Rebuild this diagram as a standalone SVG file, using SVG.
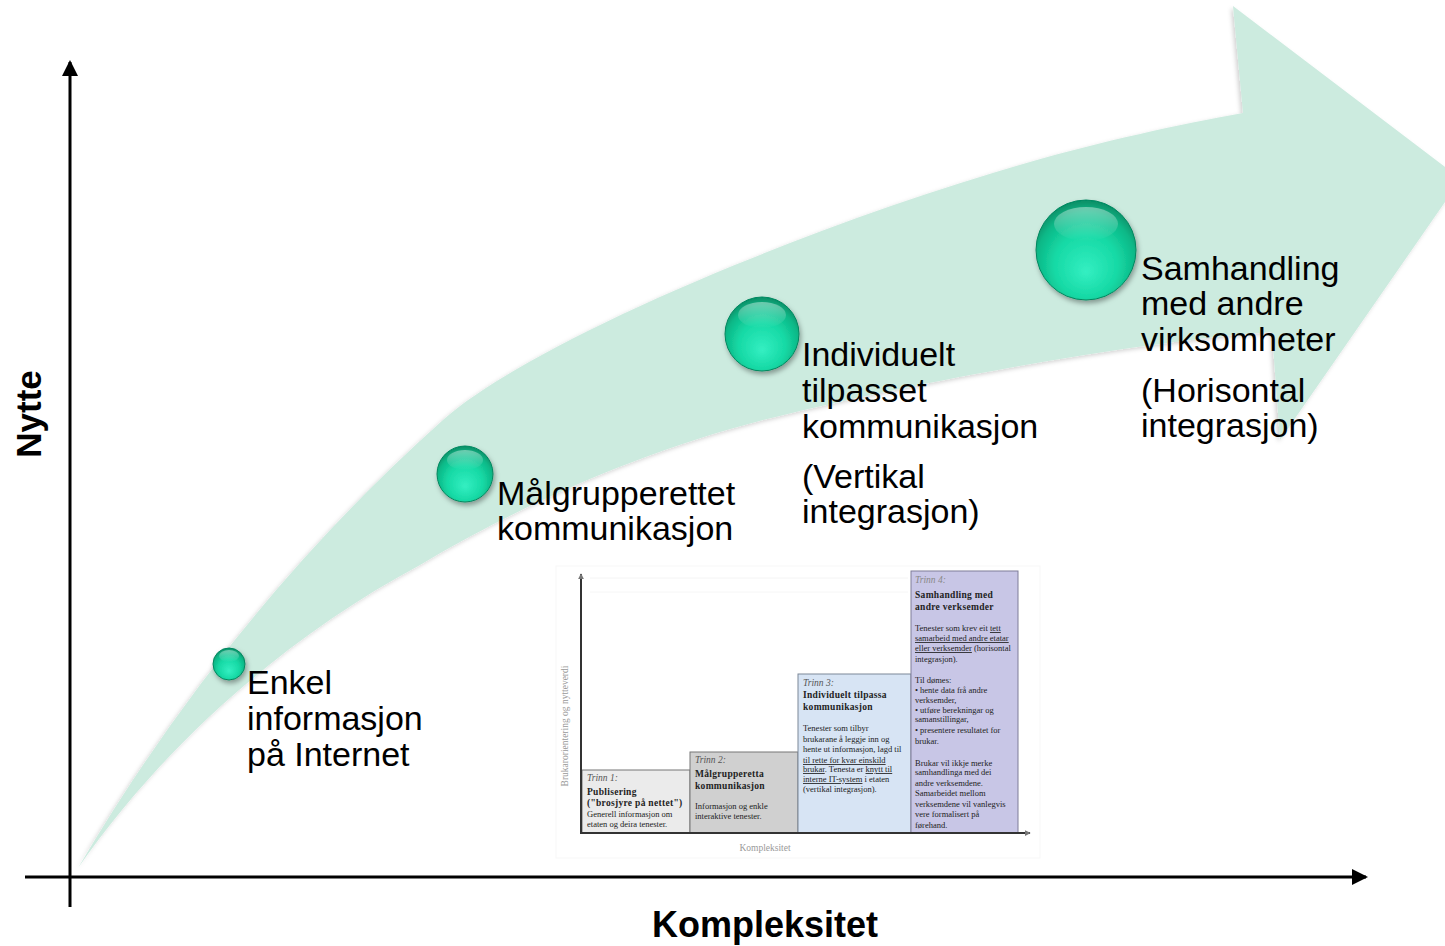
<svg xmlns="http://www.w3.org/2000/svg" width="1445" height="946" viewBox="0 0 1445 946">
<defs>
<style>
.lbl{font-family:"Liberation Sans",Arial,sans-serif;font-size:34px;fill:#000}
.ax{font-family:"Liberation Sans",Arial,sans-serif;font-size:36px;font-weight:bold;fill:#000}
.axl{stroke:#000;stroke-width:3;fill:none}
.in{font-family:"Liberation Serif","Times New Roman",serif;font-size:8.5px;fill:#222}
.inh{font-family:"Liberation Serif","Times New Roman",serif;font-size:9.5px;font-weight:bold;fill:#222;letter-spacing:0.3px}
.inT{font-family:"Liberation Serif","Times New Roman",serif;font-size:9.5px;font-style:italic;fill:#555}
.ing{font-family:"Liberation Serif","Times New Roman",serif;font-size:9.5px;fill:#999}
.u{text-decoration:underline}
.ball{fill:url(#ballG);stroke:#06875f;stroke-width:1;filter:url(#bsh)}
.hl{fill:url(#hlG)}
</style>
<radialGradient id="ballG" cx="50%" cy="60%" r="58%" fx="50%" fy="72%">
<stop offset="0" stop-color="#34efc2"/>
<stop offset="0.55" stop-color="#16d9a5"/>
<stop offset="0.85" stop-color="#0cb887"/>
<stop offset="1" stop-color="#07936a"/>
</radialGradient>
<linearGradient id="hlG" x1="0" y1="0" x2="0" y2="1">
<stop offset="0" stop-color="#ffffff" stop-opacity="0.4"/>
<stop offset="1" stop-color="#ffffff" stop-opacity="0"/>
</linearGradient>
<filter id="bsh" x="-30%" y="-30%" width="160%" height="170%">
<feDropShadow dx="1.5" dy="3" stdDeviation="2.5" flood-color="#000" flood-opacity="0.35"/>
</filter>
<filter id="ash" x="-5%" y="-5%" width="110%" height="110%">
<feDropShadow dx="-2" dy="2" stdDeviation="2" flood-color="#000" flood-opacity="0.18"/>
</filter>
<marker id="ahead" viewBox="0 0 16 16" refX="14" refY="8" markerWidth="16" markerHeight="16" markerUnits="userSpaceOnUse" orient="auto">
<path d="M0,0 L16,8 L0,16 Z" fill="#000"/>
</marker>
<marker id="ghead" viewBox="0 0 8 8" refX="7" refY="4" markerWidth="6" markerHeight="6" markerUnits="userSpaceOnUse" orient="auto">
<path d="M0,0 L8,4 L0,8 Z" fill="#777"/>
</marker>
</defs>
<rect width="1445" height="946" fill="#fff"/>

<g id="growth-arrow">
<path filter="url(#ash)" fill="#ccebdf" d="M78,868 Q230,610 443,420 C528,344 800,228 1030,162 C1100,142 1180,124 1243,113 L1233,6 L1461,179 L1280,440 L1272,332 C1150,340 920,380 763,420 C640,452 520,505 420,565 C280,640 160,750 78,868 Z"/>
</g>

<g id="connectors">
<line class="axl" x1="70" y1="907" x2="70" y2="62" marker-end="url(#ahead)"/>
<line class="axl" x1="25" y1="877" x2="1366" y2="877" marker-end="url(#ahead)"/>
</g>

<g id="axis-labels">
<text class="ax" x="765" y="937" text-anchor="middle">Kompleksitet</text>
<text class="ax" transform="translate(41,414) rotate(-90)" text-anchor="middle" style="font-size:35px">Nytte</text>
</g>

<g id="inset">
<rect x="556" y="566" width="484" height="292" fill="#fff" stroke="#f7f7f7" stroke-width="1"/>
<line x1="590" y1="578" x2="908" y2="578" stroke="#f4f4f4"/>
<line x1="590" y1="592" x2="908" y2="592" stroke="#f6f6f6"/>
<g id="inset-box1">
<rect x="582" y="770" width="108" height="63" fill="#ebebeb" stroke="#777" stroke-width="1"/>
<text class="inT" x="587" y="781">Trinn 1:</text>
<text class="inh" x="587" y="795">Publisering</text>
<text class="inh" x="587" y="806">("brosjyre på nettet")</text>
<text class="in" x="587" y="817">Generell informasjon om</text>
<text class="in" x="587" y="827">etaten og deira tenester.</text>
</g>
<g id="inset-box2">
<rect x="690" y="752" width="108" height="81" fill="#d0d0d0" stroke="#777" stroke-width="1"/>
<text class="inT" x="695" y="763">Trinn 2:</text>
<text class="inh" x="695" y="777">Målgrupperetta</text>
<text class="inh" x="695" y="789">kommunikasjon</text>
<text class="in" x="695" y="809">Informasjon og enkle</text>
<text class="in" x="695" y="819">interaktive tenester.</text>
</g>
<g id="inset-box3">
<rect x="798" y="674" width="113" height="159" fill="#d7e4f4" stroke="#7d8798" stroke-width="1"/>
<text class="inT" x="803" y="686">Trinn 3:</text>
<text class="inh" x="803" y="698">Individuelt tilpassa</text>
<text class="inh" x="803" y="710">kommunikasjon</text>
<text class="in" x="803" y="731">Tenester som tilbyr</text>
<text class="in" x="803" y="742">brukarane å leggje inn og</text>
<text class="in" x="803" y="752">hente ut informasjon, lagd til</text>
<text class="in" x="803" y="763"><tspan class="u">til rette for kvar einskild</tspan></text>
<text class="in" x="803" y="772"><tspan class="u">brukar</tspan>. Tenesta er <tspan class="u">knytt til</tspan></text>
<text class="in" x="803" y="782"><tspan class="u">interne IT-system</tspan> i etaten</text>
<text class="in" x="803" y="792">(vertikal integrasjon).</text>
</g>
<g id="inset-box4">
<rect x="911" y="571" width="107" height="262" fill="#c8c6e6" stroke="#7e7c98" stroke-width="1"/>
<text class="inT" x="915" y="583" style="fill:#888">Trinn 4:</text>
<text class="inh" x="915" y="598">Samhandling med</text>
<text class="inh" x="915" y="610">andre verksemder</text>
<text class="in" x="915" y="631">Tenester som krev eit <tspan class="u">tett</tspan></text>
<text class="in" x="915" y="641"><tspan class="u">samarbeid med andre etatar</tspan></text>
<text class="in" x="915" y="651"><tspan class="u">eller verksemder</tspan> (horisontal</text>
<text class="in" x="915" y="662">integrasjon).</text>
<text class="in" x="915" y="683">Til dømes:</text>
<text class="in" x="915" y="693">• hente data frå andre</text>
<text class="in" x="915" y="703">verksemder,</text>
<text class="in" x="915" y="713">• utføre berekningar og</text>
<text class="in" x="915" y="722">samanstillingar,</text>
<text class="in" x="915" y="733">• presentere resultatet for</text>
<text class="in" x="915" y="744">brukar.</text>
<text class="in" x="915" y="766">Brukar vil ikkje merke</text>
<text class="in" x="915" y="775">samhandlinga med dei</text>
<text class="in" x="915" y="786">andre verksemdene.</text>
<text class="in" x="915" y="796">Samarbeidet mellom</text>
<text class="in" x="915" y="807">verksemdene vil vanlegvis</text>
<text class="in" x="915" y="817">vere formalisert på</text>
<text class="in" x="915" y="828">førehand.</text>
</g>
<g id="inset-axes">
<line x1="581" y1="834" x2="581" y2="574" stroke="#333" stroke-width="2" marker-end="url(#ghead)"/>
<line x1="581" y1="833" x2="1030" y2="833" stroke="#333" stroke-width="2" marker-end="url(#ghead)"/>
<text class="ing" x="765" y="851" text-anchor="middle">Kompleksitet</text>
<text class="ing" transform="translate(568,726) rotate(-90)" text-anchor="middle">Brukarorientering og nytteverdi</text>
</g>
</g>

<g id="node-enkel">
<circle class="ball" cx="229" cy="664" r="16"/>
<ellipse class="hl" cx="229" cy="656" rx="10" ry="6"/>
<text class="lbl" x="247" y="694">Enkel</text>
<text class="lbl" x="247" y="730">informasjon</text>
<text class="lbl" x="247" y="766">på Internet</text>
</g>

<g id="node-malgruppe">
<circle class="ball" cx="465" cy="474" r="28"/>
<ellipse class="hl" cx="465" cy="460" rx="18" ry="10"/>
<text class="lbl" x="497" y="505">Målgrupperettet</text>
<text class="lbl" x="497" y="540">kommunikasjon</text>
</g>

<g id="node-individuelt">
<circle class="ball" cx="762" cy="334" r="37"/>
<ellipse class="hl" cx="762" cy="315" rx="24" ry="13"/>
<text class="lbl" x="802" y="366">Individuelt</text>
<text class="lbl" x="802" y="402">tilpasset</text>
<text class="lbl" x="802" y="438">kommunikasjon</text>
<text class="lbl" x="802" y="488">(Vertikal</text>
<text class="lbl" x="802" y="523">integrasjon)</text>
</g>

<g id="node-samhandling">
<circle class="ball" cx="1086" cy="250" r="50"/>
<ellipse class="hl" cx="1086" cy="224" rx="32" ry="17"/>
<text class="lbl" x="1141" y="280">Samhandling</text>
<text class="lbl" x="1141" y="315">med andre</text>
<text class="lbl" x="1141" y="351">virksomheter</text>
<text class="lbl" x="1141" y="402">(Horisontal</text>
<text class="lbl" x="1141" y="437">integrasjon)</text>
</g>
</svg>
